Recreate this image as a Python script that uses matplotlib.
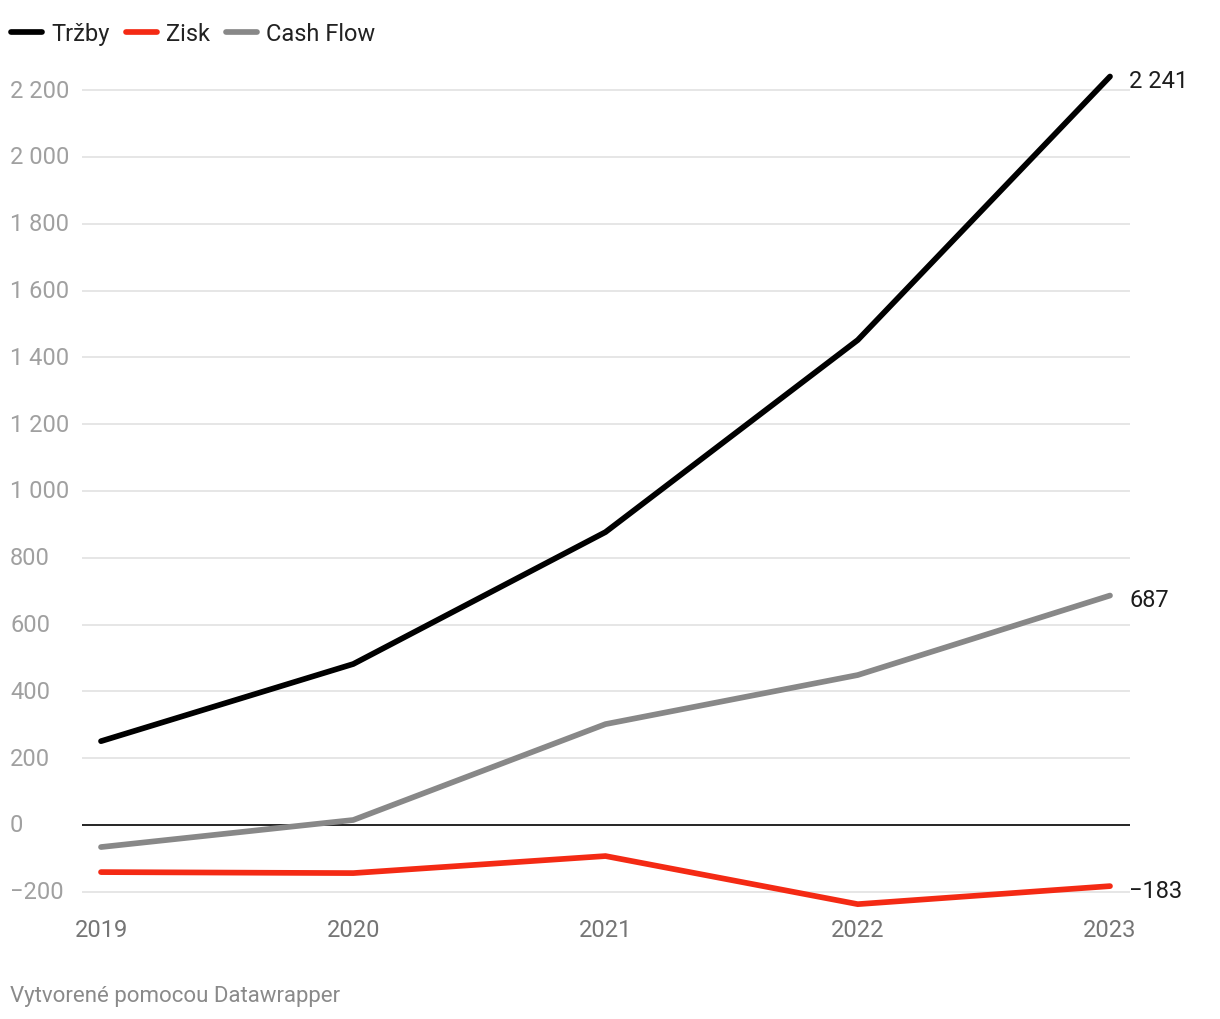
import matplotlib
matplotlib.use("Agg")
from matplotlib import pyplot as plt
from matplotlib import transforms

plt.rcParams['font.family'] = ['Roboto', 'DejaVu Sans']

roky = [2019, 2020, 2021, 2022, 2023]
trzby = [251, 482, 877, 1452, 2241]
zisk = [-141, -144, -93, -237, -183]
cash_flow = [-66, 15, 302, 449, 687]

nazvy = ["Tržby", "Zisk", "Cash Flow"]
farby = ["#000000", "#f42a14", "#888888"]
y_ticky = [-200, 0, 200, 400, 600, 800, 1000, 1200, 1400, 1600, 1800, 2000, 2200]


def format_cislo(v):
    s = "{:,}".format(abs(v)).replace(",", " ")
    return ("\u2212" if v < 0 else "") + s


fig = plt.figure(figsize=(12.2, 10.2), dpi=100)
# os: x od 82 do 1130 px, y od 61 do 911 px
ax = fig.add_axes([82 / 1220, 1 - 911 / 1020, 1048 / 1220, 850 / 1020])

ax.set_xlim(2019 - 19 / 252.25, 2023 + 20 / 252.25)
ax.set_ylim(-(911 - 826) / 0.334, (826 - 61) / 0.334)

for t in y_ticky:
    if t == 0:
        ax.axhline(0, color="#000000", lw=1.2, zorder=2)
    else:
        ax.axhline(t, color="#e2e2e2", lw=1.2, zorder=1)

trans = transforms.blended_transform_factory(fig.transFigure, ax.transData)
for t in y_ticky:
    ax.text(10 / 1220, t, format_cislo(t), transform=trans, ha="left", va="center",
            fontsize=17, color="#a0a0a0")

for rok in roky:
    ax.text(rok, -312, str(rok), ha="center", va="center", fontsize=17, color="#757575")

for data, nazov, farba in zip([trzby, zisk, cash_flow], nazvy, farby):
    ax.plot(roky, data, color=farba, lw=4.1, solid_capstyle="round", solid_joinstyle="miter",
            label=nazov, zorder=3)
    ax.annotate(format_cislo(data[-1]), (roky[-1], data[-1]), xytext=(14, -3),
                textcoords="offset points", ha="left", va="center", fontsize=17,
                color="#1d1d1d")

for s in ax.spines.values():
    s.set_visible(False)
ax.set_xticks([])
ax.set_yticks([])

leg = fig.legend(loc="upper left", bbox_to_anchor=(2 / 1220, 1 - 14 / 1020), ncol=3,
                 frameon=False, fontsize=17, handlelength=1.3, handletextpad=0.4,
                 columnspacing=0.68, borderaxespad=0)
for t in leg.get_texts():
    t.set_color("#222222")

fig.text(10 / 1220, 1 - 997 / 1020, "Vytvorené pomocou Datawrapper", ha="left", va="center",
         fontsize=16, color="#8a8a8a")

fig.savefig("out.png", dpi=100)
